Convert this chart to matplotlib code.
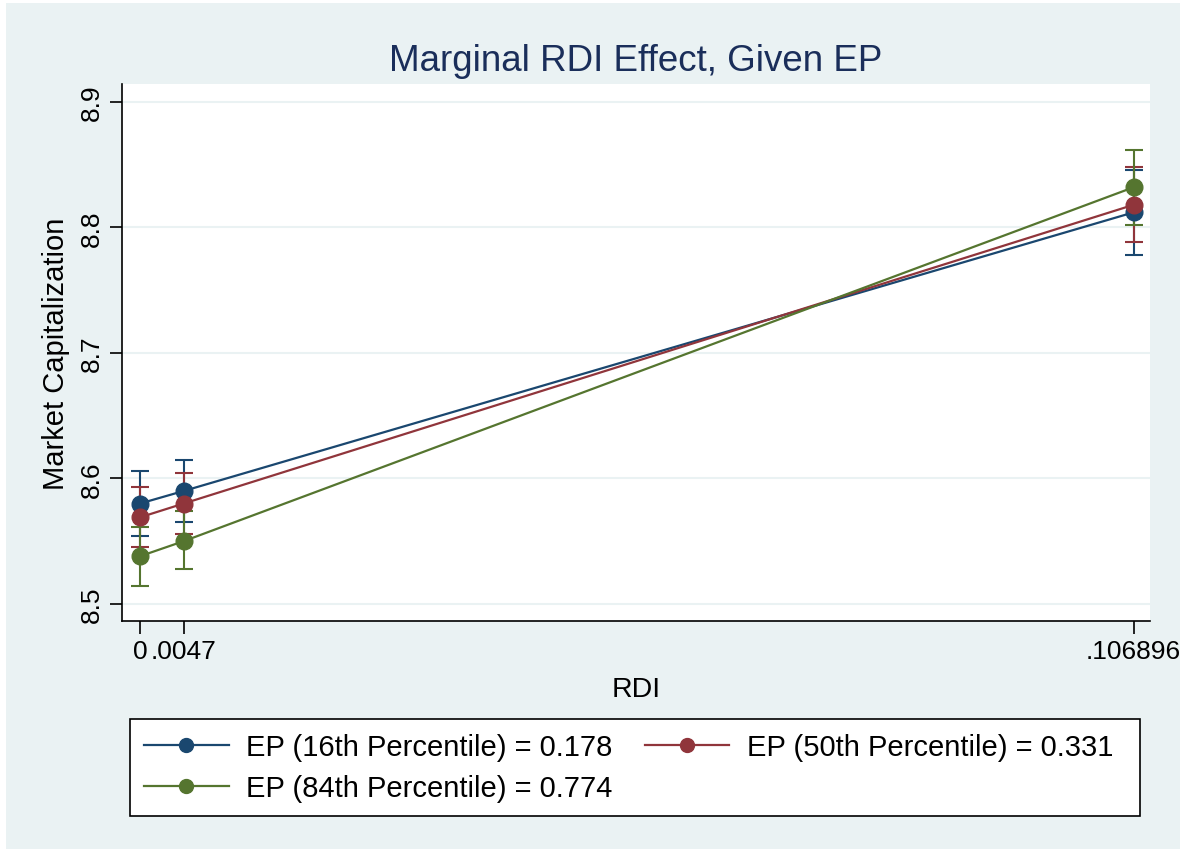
import matplotlib.pyplot as plt
from matplotlib.patches import Rectangle

plt.rcParams['font.family'] = ['Liberation Sans', 'DejaVu Sans']

rdi = [0.0, 0.0047, 0.106896]
xtick_labels = ["0", ".0047", ".106896"]

labels = [
    "EP (16th Percentile) = 0.178",
    "EP (50th Percentile) = 0.331",
    "EP (84th Percentile) = 0.774",
]
colors = ["#1a476f", "#90353b", "#55752f"]

# margins and 95% CI bounds
est_16 = [8.580, 8.590, 8.812]
lo_16 = [8.554, 8.565, 8.778]
hi_16 = [8.606, 8.615, 8.846]

est_50 = [8.569, 8.580, 8.818]
lo_50 = [8.545, 8.556, 8.788]
hi_50 = [8.593, 8.604, 8.848]

est_84 = [8.538, 8.550, 8.832]
lo_84 = [8.514, 8.528, 8.802]
hi_84 = [8.561, 8.574, 8.862]

series = [(est_16, lo_16, hi_16), (est_50, lo_50, hi_50), (est_84, lo_84, hi_84)]

fig = plt.figure(figsize=(11.86, 8.54), dpi=100)
fig.patch.set_facecolor("white")
fig.patches.append(Rectangle((0.005, 0.005), 0.99, 0.99, transform=fig.transFigure,
                             facecolor="#eaf2f3", edgecolor="none", zorder=-10))

ax = fig.add_axes([0.1029, 0.2717, 0.8667, 0.6288])
ax.set_facecolor("white")

handles = []
for (est, lo, hi), c, lab in zip(series, colors, labels):
    yerr = [[e - l for e, l in zip(est, lo)], [h - e for e, h in zip(est, hi)]]
    ax.errorbar(rdi, est, yerr=yerr, fmt="none", ecolor=c, elinewidth=1.5,
                capsize=6.5, capthick=1.5, zorder=2)
    ln, = ax.plot(rdi, est, color=c, lw=1.6, marker="o", markersize=12, label=lab, zorder=3)
    handles.append(ln)

ax.set_xlim(-0.00194, 0.10865)
ax.set_ylim(8.4864, 8.9143)
ax.set_yticks([8.5, 8.6, 8.7, 8.8, 8.9])
ax.set_yticklabels(["8.5", "8.6", "8.7", "8.8", "8.9"], rotation=90, va="center")
ax.set_xticks(rdi)
ax.set_xticklabels(xtick_labels)
ax.grid(axis="y", color="#eaf2f3", lw=1.5, zorder=0)
ax.set_axisbelow(True)

for s in ["top", "right"]:
    ax.spines[s].set_visible(False)
ax.spines["left"].set_linewidth(1.2)
ax.spines["bottom"].set_linewidth(1.2)
ax.tick_params(axis="both", length=9, width=1.2, labelsize=19, pad=4)

ax.set_xlabel("RDI", fontsize=20.5, labelpad=9)
ax.set_ylabel("Market Capitalization", fontsize=21, labelpad=7)
ax.set_title("Marginal RDI Effect, Given EP", fontsize=26.5, color="#1a2e5a", pad=10)

# legend box drawn separately so the entries stay left-packed like Stata
fig.patches.append(Rectangle((0.1096, 0.0433), 0.8516, 0.1137, transform=fig.transFigure,
                             facecolor="white", edgecolor="black", lw=1.2, zorder=1))
order = [0, 2, 1]
leg = fig.legend([handles[i] for i in order], [labels[i] for i in order],
                 loc="center left", bbox_to_anchor=(0.1215, 0.1002),
                 ncol=2, fontsize=21, frameon=False,
                 handlelength=2.9, handletextpad=0.6, borderaxespad=0, borderpad=0.0,
                 labelspacing=0.45, columnspacing=1.1)
for h in leg.legend_handles:
    h.set_markersize(10)

fig.savefig("out.png", dpi=100, facecolor=fig.get_facecolor())
